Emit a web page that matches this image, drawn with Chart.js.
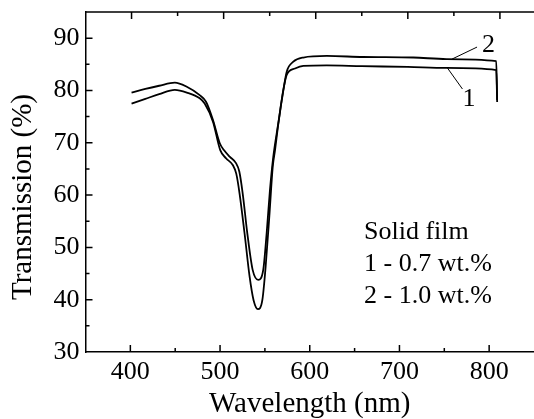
<!DOCTYPE html>
<html>
<head>
<meta charset="utf-8">
<script src="https://cdn.jsdelivr.net/npm/chart.js@4"></script>
<style>
html,body{margin:0;padding:0;background:#fff}
</style>
</head>
<body>
<canvas id="c" width="534" height="419"></canvas>
<script>

// curve 1 : 0.7 wt.% (lower plateau)
let wl1 = [400,415,430,447,460,474,481,488.5,495.8,500.3,506.8,513.4,517,520.7,525.7,531.5,537.6,543,546.7,550.3,553.9,559.3,564.8,568.5,577.5,586.5,612,650,700,742,796,797]
let t1  = [79.6,80.3,80.9,81.5,80.7,79.1,77.8,74.3,69.9,68.6,67.3,66.1,64.5,60.3,52.7,45.7,43.8,45.7,52.7,61,67.3,73.7,80.1,83.0,84.2,84.7,84.8,84.65,84.5,84.3,83.9,77.8]

// curve 2 : 1.0 wt.% (upper plateau)
let wl2 = [400,415,430,447,460,474,479.4,488.5,496.3,502.8,510.1,513.7,517.3,522.7,528.2,532.5,537.2,542,545.6,549.6,553.3,555.8,559.3,564.8,568.5,575.7,586.5,612,651,706,742,796,797]
let t2  = [77.5,78.4,79.3,80.1,79.6,78.5,77.5,74.0,68.6,67.0,65.7,64.1,60.3,52.7,44.4,39.9,38.2,39.9,46.3,55.9,65.4,68.6,73.5,80.0,83.6,85.5,86.3,86.6,86.4,86.3,86.0,85.6,78.2]

let xTickValues = [400,450,500,550,600,650,700,750,800]
let yTickValues = [35,40,45,50,55,60,65,70,75,80,85,90]
let noteLines = ["Solid film","1 - 0.7 wt.%","2 - 1.0 wt.%"]

let serif = "'Liberation Serif','Times New Roman',serif"

function pts(xs, ys){
return xs.map((v,i)=>({x:v, y:ys[i]}))
}

function noPad(s){
s.paddingLeft = 0
s.paddingRight = 0
s.paddingTop = 0
s.paddingBottom = 0
}

let frameTicks = {
id:"frameTicks",
afterDraw(chart){
let ctx = chart.ctx
let a = chart.chartArea
let x = chart.scales.x
let x2 = chart.scales.x2
let y = chart.scales.y

ctx.save()
ctx.strokeStyle = "#000"
ctx.lineWidth = 1.5
ctx.beginPath()
ctx.moveTo(a.left, a.top)
ctx.lineTo(a.right, a.top)

xTickValues.forEach(v=>{
let len = v % 100 === 0 ? 7 : 4
let pb = x.getPixelForValue(v)
ctx.moveTo(pb, a.bottom)
ctx.lineTo(pb, a.bottom - len)
let pt = x2.getPixelForValue(v)
ctx.moveTo(pt, a.top)
ctx.lineTo(pt, a.top + len)
})

yTickValues.forEach(v=>{
let len = v % 10 === 0 ? 7 : 4
let py = y.getPixelForValue(v)
ctx.moveTo(a.left, py)
ctx.lineTo(a.left + len, py)
})
ctx.stroke()

// curve labels with leader lines
ctx.lineWidth = 1
let s2x = x2.getPixelForValue(748), s2y = y.getPixelForValue(86.0)
let s1x = x2.getPixelForValue(743), s1y = y.getPixelForValue(84.3)
ctx.beginPath()
ctx.moveTo(s2x, s2y)
ctx.lineTo(s2x + 25, s2y - 12)
ctx.moveTo(s1x, s1y)
ctx.lineTo(s1x + 15, s1y + 21)
ctx.stroke()

ctx.fillStyle = "#000"
ctx.font = "26px " + serif
ctx.textAlign = "left"
ctx.textBaseline = "alphabetic"
ctx.fillText("2", s2x + 30, s2y - 7)
ctx.fillText("1", s1x + 15, s1y + 38)

noteLines.forEach((t,i)=>{
ctx.fillText(t, 364, 239 + i*32)
})

// y title
ctx.translate(23, 197)
ctx.rotate(-Math.PI/2)
ctx.textAlign = "center"
ctx.textBaseline = "middle"
ctx.font = "29px " + serif
ctx.fillText("Transmission (%)", 0, 0)
ctx.restore()
}
}

new Chart(document.getElementById("c"),{
type:"line",
data:{
datasets:[
{
label:"1",
data:pts(wl1, t1),
xAxisID:"x2",
borderColor:"#000",
borderWidth:1.8,
pointRadius:0,
cubicInterpolationMode:"monotone",
fill:false
},
{
label:"2",
data:pts(wl2, t2),
xAxisID:"x2",
borderColor:"#000",
borderWidth:1.8,
pointRadius:0,
cubicInterpolationMode:"monotone",
fill:false
}
]
},
options:{
responsive:false,
animation:false,
layout:{padding:{top:12,left:0,right:0,bottom:0}},
plugins:{legend:{display:false},tooltip:{enabled:false}},
scales:{
x:{
type:"linear",
position:"bottom",
min:350,
max:850,
afterFit:s=>{s.height = 67; noPad(s)},
grid:{display:false, drawTicks:false},
border:{display:true, color:"#000", width:1.5},
ticks:{
stepSize:50,
autoSkip:false,
maxRotation:0,
padding:5,
color:"#000",
font:{family:serif, size:26},
callback:v => (v % 100 === 0 && v >= 400 && v <= 800) ? String(v) : ""
},
title:{display:true, text:"Wavelength (nm)", color:"#000", font:{family:serif, size:29, lineHeight:1}, padding:{top:0,bottom:0}}
},
x2:{
type:"linear",
position:"top",
min:350,
max:837,
afterFit:s=>{s.height = 0; noPad(s)},
grid:{display:false, drawTicks:false},
border:{display:false},
ticks:{display:false}
},
y:{
type:"linear",
min:30,
max:95,
afterFit:s=>{s.width = 85.5; noPad(s)},
grid:{display:false, drawTicks:false},
border:{display:true, color:"#000", width:1.5},
ticks:{
stepSize:5,
autoSkip:false,
padding:6,
color:"#000",
font:{family:serif, size:26},
callback:v => (v % 10 === 0 && v <= 90) ? String(v) : ""
}
}
}
},
plugins:[frameTicks]
})
</script>
</body>
</html>
